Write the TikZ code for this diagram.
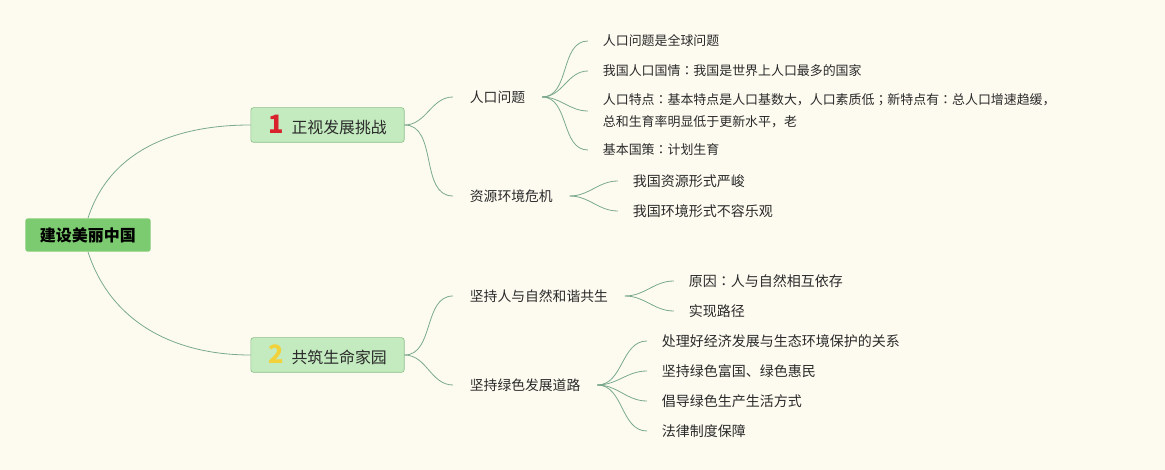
\documentclass[tikz,border=0pt]{standalone}
\usepackage{fontspec}
\setmainfont{Noto Sans CJK SC}
\newfontfamily\jpfont{Noto Sans CJK JP}
\newcommand\jcolon{{\jpfont ：}}
\newcommand\jsemi{{\jpfont ；}}
\definecolor{paper}{HTML}{FDFBF0}
\definecolor{rootgreen}{HTML}{7DCB70}
\definecolor{boxgreen}{HTML}{C3EBBF}
\definecolor{boxedge}{HTML}{8DBF8A}
\definecolor{linkgreen}{HTML}{7BA98F}
\definecolor{ink}{HTML}{2A2A2A}
\definecolor{numred}{HTML}{D8222C}
\definecolor{numyellow}{HTML}{F1D23A}
\begin{document}
\begin{tikzpicture}[x=0.75pt, y=-0.75pt,
    link/.style={draw=linkgreen, line width=0.6pt},
    rootbox/.style={fill=rootgreen, rounded corners=2pt, minimum width=94pt, minimum height=25pt,
      font=\fontsize{12}{14}\selectfont\bfseries, text=black},
    topicbox/.style={fill=boxgreen, draw=boxedge, line width=0.5pt, rounded corners=2pt,
      minimum width=115pt, minimum height=26pt, font=\fontsize{11.9}{14}\selectfont, text=ink},
    subtopic/.style={anchor=west, inner xsep=12.5pt, font=\fontsize{10.35}{13}\selectfont, text=ink},
    leaf/.style={anchor=west, inner xsep=11pt, align=left, font=\fontsize{9.7}{16.5}\selectfont, text=ink},
    bigleaf/.style={leaf, font=\fontsize{10.5}{16.5}\selectfont}]
  \fill[paper] (0,0) rectangle (1165,470);

  % central topic
  \node[rootbox] (root) at (88,235) {建设美丽中国};

  % main topics
  \node[topicbox] (t1) at (327.5,125) {\textcolor{numred}{\fontsize{19}{19}\selectfont\bfseries 1}\hspace{6pt}正视发展挑战};
  \node[topicbox] (t2) at (327.5,355) {\textcolor{numyellow}{\fontsize{19}{19}\selectfont\bfseries 2}\hspace{6pt}共筑生命家园};
  \draw[link] (root.north) to[out=72,in=180] (t1.west);
  \draw[link] (root.south) to[out=-72,in=180] (t2.west);

  % 正视发展挑战
  \node[subtopic] (s11) at (453,97) {人口问题};
  \node[subtopic] (s12) at (453,196) {资源环境危机};
  \draw[link] (t1.east) to[out=0,in=180] (s11.west);
  \draw[link] (t1.east) to[out=0,in=180] (s12.west);

  \foreach \nm/\yy/\txt in {a1/41/{人口问题是全球问题},
      a2/71/{我国人口国情\jcolon 我国是世界上人口最多的国家},
      a3/111/{人口特点\jcolon 基本特点是人口基数大，人口素质低\jsemi 新特点有\jcolon 总人口增速趋缓，\\总和生育率明显低于更新水平，老},
      a4/150/{基本国策\jcolon 计划生育}}{
    \node[leaf] (\nm) at (588,\yy) {\txt};
    \draw[link] (s11.east) to[out=0,in=180] (\nm.west);
  }
  \foreach \nm/\yy/\txt in {b1/181/{我国资源形式严峻}, b2/211/{我国环境形式不容乐观}}{
    \node[bigleaf] (\nm) at (618,\yy) {\txt};
    \draw[link] (s12.east) to[out=0,in=180] (\nm.west);
  }

  % 共筑生命家园
  \node[subtopic] (s21) at (453,296) {坚持人与自然和谐共生};
  \node[subtopic] (s22) at (453,385) {坚持绿色发展道路};
  \draw[link] (t2.east) to[out=0,in=180] (s21.west);
  \draw[link] (t2.east) to[out=0,in=180] (s22.west);

  \foreach \nm/\yy/\txt in {c1/281/{原因\jcolon 人与自然相互依存}, c2/311/{实现路径}}{
    \node[bigleaf] (\nm) at (674,\yy) {\txt};
    \draw[link] (s21.east) to[out=0,in=180] (\nm.west);
  }
  \foreach \nm/\yy/\txt in {d1/341/{处理好经济发展与生态环境保护的关系},
      d2/371/{坚持绿色富国、绿色惠民},
      d3/401/{倡导绿色生产生活方式},
      d4/431/{法律制度保障}}{
    \node[bigleaf] (\nm) at (647,\yy) {\txt};
    \draw[link] (s22.east) to[out=0,in=180] (\nm.west);
  }
\end{tikzpicture}
\end{document}
